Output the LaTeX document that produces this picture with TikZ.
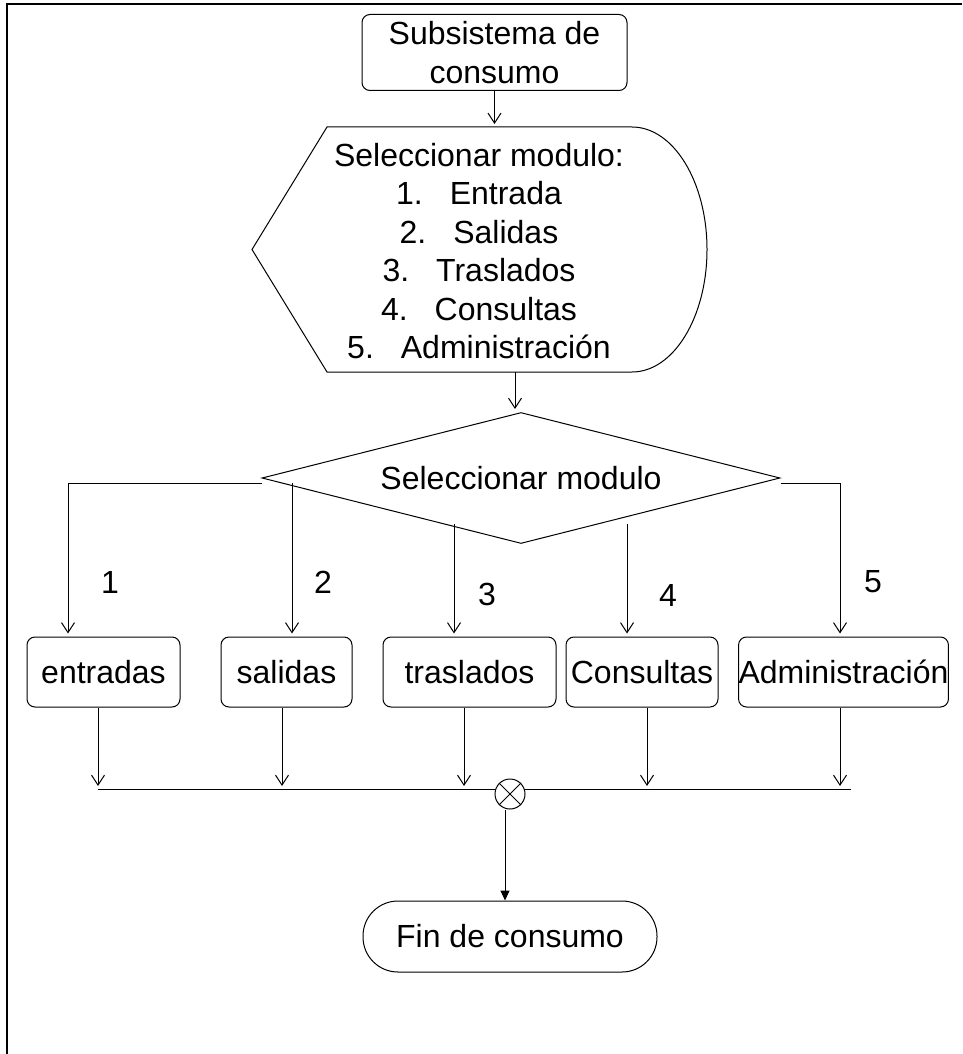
\documentclass[tikz,border=0pt]{standalone}
\usepackage{fontspec}
\setmainfont{Liberation Sans}
\usetikzlibrary{arrows.meta,shapes.geometric}

\newcommand{\opc}[2]{#1.\hspace{27pt}#2}

\begin{document}
\begin{tikzpicture}[x=1pt,y=-1pt,line width=1pt,
  font=\fontsize{32}{38.5}\selectfont,
  caja/.style={draw,rounded corners=8pt,inner sep=0pt,minimum height=70pt},
  flecha/.style={-{Straight Barb[length=10pt,width=13pt]},shorten >=3pt}]
\useasboundingbox (0,0) rectangle (962,1054);
\draw[line width=2pt] (7,1054) -- (7,4) -- (962,4);

\node[caja,minimum width=265pt,minimum height=76pt,align=center] (inicio) at (494.5,52.5) {Subsistema de\\consumo};

% pantalla del menu
\draw (327,127) -- (632,127) arc[start angle=-90,end angle=90,x radius=75,y radius=122.5] -- (327,372) -- (252,249.5) -- cycle;
\coordinate (menuarriba) at (495,127);
\coordinate (menuabajo) at (515,372);
\node[align=center,inner sep=0pt] (menu) at (479,251) {Seleccionar modulo:\\\opc{1}{Entrada}\\\opc{2}{Salidas}\\\opc{3}{Traslados}\\\opc{4}{Consultas}\\\opc{5}{Administración}};
\draw[flecha] (inicio.south) -- (inicio.south |- menuarriba);

\node[draw,diamond,aspect=3.95,minimum width=518pt,minimum height=131pt,inner sep=0pt] (decision) at (521,478) {Seleccionar modulo};
\draw[flecha] (menuabajo) -- (menuabajo |- decision.north);

\node[caja,minimum width=153pt] (entradas) at (103.5,672) {entradas};
\node[caja,minimum width=131pt] (salidas) at (286.5,672) {salidas};
\node[caja,minimum width=173pt] (traslados) at (469.5,672) {traslados};
\node[caja,minimum width=152pt] (consultas) at (642,672) {Consultas};
\node[caja,minimum width=209pt] (admin) at (843.5,672) {Administración};

% ramas
\coordinate (r2) at (292,483);
\coordinate (r3) at (454,524);
\coordinate (r4) at (627,524);
\draw[flecha] ([yshift=-5pt]decision.west) -| ([xshift=-35.5pt]entradas.north);
\draw[flecha] (r2) -- (r2 |- salidas.north);
\draw[flecha] (r3) -- (r3 |- traslados.north);
\draw[flecha] (r4) -- (r4 |- consultas.north);
\draw[flecha] ([yshift=-5pt]decision.east) -| ([xshift=-3.5pt]admin.north);

\node (n1) at (110,582) {1};
\node (n2) at (323,582) {2};
\node (n3) at (487,594) {3};
\node (n4) at (668,595) {4};
\node (n5) at (873,582) {5};

% union
\coordinate (barraizq) at (98,789);
\coordinate (barrader) at (851,789);
\draw (barraizq) -- (barrader);
\foreach \c/\dx in {entradas/-5.5,salidas/-4.5,traslados/-5.5,consultas/5,admin/-3.5}
  \draw[flecha] ([xshift=\dx pt]\c.south) -- ([xshift=\dx pt]\c.south |- barraizq);
\node[draw,circle,fill=white,minimum size=30pt,inner sep=0pt] (union) at (510,794) {};
\draw (union.45) -- (union.225) (union.135) -- (union.315);

\node[draw,rounded corners=35pt,minimum width=294pt,minimum height=71pt] (fin) at (510,936.5) {Fin de consumo};
\draw[-{Triangle[length=10pt,width=9pt]}] ([xshift=-5pt]union.south) -- ([xshift=-5pt]union.south |- fin.north);
\end{tikzpicture}
\end{document}
